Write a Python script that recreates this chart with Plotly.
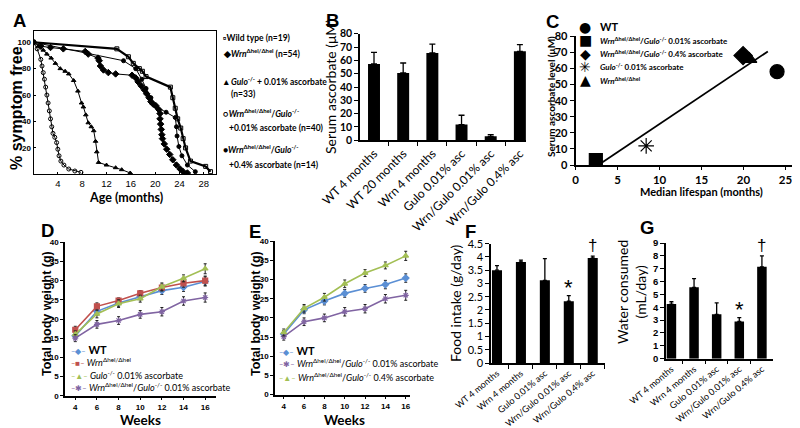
import plotly.graph_objects as go

# ---------------- DATA ----------------
# Panel A: survival curves (age in months, % symptom free)
a_wt_age = [0, 13.7, 15.6, 16.4, 17.4, 17.9, 18.5, 22.5, 22.9, 23.3, 23.7, 24.2, 24.6, 25.0, 25.8, 28.3, 29.1]
a_wt_pct = [100, 95, 89, 84, 80, 78, 74, 66, 58, 50, 42, 35, 27, 20, 10, 6, 2]
a_wrn_age = [0, 1.2, 2.8, 4.9, 8.5, 9.0, 10.6, 10.8, 11.0, 11.5, 12.3, 13.5, 16.2, 16.8, 17.2, 17.7, 18.2,
             18.6, 19.0, 19.3, 19.7, 20.1, 20.6, 20.8, 20.8, 20.9, 21.0, 21.1, 21.2, 21.5, 21.9, 22.4,
             22.9, 23.5, 24.1, 24.6, 25.3]
a_wrn_pct = [100, 97, 96, 95, 93, 91, 88, 86, 82, 79, 77, 76, 75, 73, 70, 67, 64,
             61, 58, 55, 53, 52, 49, 46, 42, 38, 34, 30, 27, 23, 19, 15,
             11, 7, 4, 2, 1]
a_gulo_age = [0, 0.8, 1.6, 2.2, 2.9, 3.6, 4.4, 5.2, 5.8, 6.6, 7.3, 7.9, 8.2, 8.6, 9.0, 9.5, 9.9, 10.2,
              10.4, 10.7, 12.0, 13.5, 14.5, 15.9]
a_gulo_pct = [100, 97, 94, 91, 88, 84, 80, 78, 76, 71, 63, 54, 51, 45, 39, 36, 33, 25,
              17, 9, 7, 5, 3.5, 1]
a_wg01_age = [0, 0.6, 1.2, 1.4, 1.6, 1.8, 2.0, 2.2, 2.4, 2.6, 2.8, 3.0, 3.2, 3.5, 3.8, 4.0, 4.2,
              4.5, 5.0, 5.8, 6.8, 7.8]
a_wg01_pct = [100, 95, 87, 82, 77, 72, 66, 60, 54, 48, 42, 36, 31, 28, 24, 19, 14,
              10, 7, 4, 2.5, 1.5]
a_wg04_age = [0, 14.8, 16.8, 17.8, 18.5, 19.3, 20.2, 21.8, 23.3, 23.5, 23.6, 23.9, 24.4, 25.3, 26.6]
a_wg04_pct = [100, 86, 80, 72, 65, 58, 51, 47, 43, 36, 29, 21, 14, 7, 2]
a_xticks = [4, 8, 12, 16, 20, 24, 28]
a_yticks = [20, 40, 60, 80, 100]

# Panel B: serum ascorbate
b_groups = ["WT 4 months", "WT 20 months", "Wrn 4 months", "Gulo 0.01% asc",
            "Wrn/Gulo 0.01% asc", "Wrn/Gulo 0.4% asc"]
b_values = [57.3, 50.5, 65.5, 11.8, 3.0, 66.8]
b_errors = [8.7, 7.5, 6.7, 7.0, 1.3, 5.0]

# Panel C: median lifespan vs serum ascorbate
c_names = ["WT", "Wrn/Gulo 0.01% ascorbate", "Wrn/Gulo 0.4% ascorbate",
           "Gulo 0.01% ascorbate", "Wrn"]
c_lifespan = [24.0, 2.4, 19.95, 8.4, 20.7]
c_ascorbate = [58.0, 3.1, 68.0, 11.9, 65.8]
c_fit_x = [2.7, 22.9]
c_fit_y = [0, 70.6]

# Panel D / E: body weight
weeks = [4, 6, 8, 10, 12, 14, 16]
d_wt = [15.6, 22.0, 24.2, 25.9, 27.4, 28.3, 29.8]
d_wt_err = [0.8, 1.0, 0.9, 0.9, 1.0, 1.1, 1.2]
d_wrn = [17.2, 23.3, 24.8, 26.7, 28.2, 29.3, 30.0]
d_wrn_err = [0.9, 0.9, 0.7, 0.7, 0.9, 1.0, 1.2]
d_gulo = [16.0, 21.3, 24.0, 25.3, 28.4, 30.6, 33.1]
d_gulo_err = [0.9, 1.0, 1.0, 0.9, 1.0, 0.9, 1.3]
d_wg = [15.0, 18.6, 19.6, 21.2, 21.9, 24.7, 25.6]
d_wg_err = [0.9, 1.0, 1.0, 1.0, 1.1, 1.1, 1.2]

e_wt = [15.8, 22.1, 24.4, 26.4, 27.7, 28.7, 30.4]
e_wt_err = [0.9, 1.0, 1.0, 1.0, 1.0, 1.1, 1.1]
e_wg01 = [15.1, 19.0, 20.0, 21.6, 22.4, 25.0, 25.9]
e_wg01_err = [0.9, 1.0, 1.0, 1.1, 1.1, 1.1, 1.3]
e_wg04 = [16.2, 22.5, 25.4, 28.9, 31.7, 33.7, 36.2]
e_wg04_err = [0.9, 1.0, 1.0, 1.0, 0.9, 0.9, 1.2]

# Panel F / G: food intake and water consumption
fg_groups = ["WT 4 months", "Wrn 4 months", "Gulo 0.01% asc", "Wrn/Gulo 0.01% asc", "Wrn/Gulo 0.4% asc"]
f_values = [3.50, 3.81, 3.12, 2.33, 3.96]
f_errors = [0.17, 0.07, 0.82, 0.21, 0.07]
g_values = [4.25, 5.55, 3.45, 2.9, 7.15]
g_errors = [0.18, 0.68, 0.9, 0.3, 0.85]
fg_marks = ["", "", "", "*", "†"]

# ---------------- STYLE ----------------
W, H = 800, 428
def px(x): return x / W
def py(y): return 1 - y / H

F_MAIN = "Lato, 'Open Sans', sans-serif"
F_ARIAL = "'Liberation Sans', Arial, sans-serif"
F_SYM = "'DejaVu Sans', sans-serif"
C_BLUE, C_RED, C_GREEN, C_PURPLE = "#5b8fd4", "#c0504d", "#a3bf55", "#8064a2"

fig = go.Figure()

# ---- A ----
for xs, ys, sym, size, lw in [
    (a_wt_age, a_wt_pct, "square-open", 4, 2.2),
    (a_wrn_age, a_wrn_pct, "diamond", 5, 1),
    (a_wg04_age, a_wg04_pct, "circle", 4, 1),
    (a_gulo_age, a_gulo_pct, "triangle-up", 4, 1),
    (a_wg01_age, a_wg01_pct, "circle-open", 4, 1),
]:
    fig.add_trace(go.Scatter(x=xs, y=ys, mode="lines+markers", xaxis="x", yaxis="y",
                             line=dict(color="black", width=lw),
                             marker=dict(symbol=sym, size=size, color="black",
                                         line=dict(color="black", width=1)),
                             showlegend=False))

# ---- B ----
fig.add_trace(go.Bar(x=list(range(len(b_groups))), y=b_values, width=0.41, xaxis="x2", yaxis="y2",
                     marker=dict(color="black", line=dict(width=0)),
                     error_y=dict(type="data", array=b_errors, arrayminus=[0] * len(b_errors),
                                  symmetric=False, color="black", thickness=1.3, width=3),
                     showlegend=False))

# ---- C ----
c_syms = ["circle", "square", "diamond", "asterisk-open", "triangle-up"]
c_sizes = [14, 13, 14, 13, 13]
for i in range(len(c_names)):
    fig.add_trace(go.Scatter(x=[c_lifespan[i]], y=[c_ascorbate[i]], mode="markers",
                             xaxis="x3", yaxis="y3", name=c_names[i],
                             marker=dict(symbol=c_syms[i], size=c_sizes[i], color="black",
                                         line=dict(color="black", width=1.2)),
                             showlegend=False))
fig.add_trace(go.Scatter(x=c_fit_x, y=c_fit_y, mode="lines", xaxis="x3", yaxis="y3",
                         line=dict(color="black", width=1.8), showlegend=False))

# ---- D / E ----
def wline(ax, ay, ys, errs, color, sym):
    fig.add_trace(go.Scatter(x=weeks, y=ys, mode="lines+markers", xaxis=ax, yaxis=ay,
                             line=dict(color=color, width=1.6),
                             marker=dict(symbol=sym, size=5, color=color, line=dict(color=color, width=1.2)),
                             error_y=dict(type="data", array=errs, color="#222222", thickness=1, width=1.5),
                             showlegend=False))

wline("x4", "y4", d_wt, d_wt_err, C_BLUE, "diamond")
wline("x4", "y4", d_wrn, d_wrn_err, C_RED, "square")
wline("x4", "y4", d_gulo, d_gulo_err, C_GREEN, "triangle-up")
wline("x4", "y4", d_wg, d_wg_err, C_PURPLE, "asterisk-open")
wline("x5", "y5", e_wt, e_wt_err, C_BLUE, "diamond")
wline("x5", "y5", e_wg01, e_wg01_err, C_PURPLE, "asterisk-open")
wline("x5", "y5", e_wg04, e_wg04_err, C_GREEN, "triangle-up")

# ---- F / G ----
for ax, ay, vals, errs in [("x6", "y6", f_values, f_errors), ("x7", "y7", g_values, g_errors)]:
    fig.add_trace(go.Bar(x=list(range(len(fg_groups))), y=vals, width=0.42, xaxis=ax, yaxis=ay,
                         marker=dict(color="black", line=dict(width=0)),
                         error_y=dict(type="data", array=errs, arrayminus=[0] * len(errs),
                                      symmetric=False, color="black", thickness=1.3, width=2),
                         showlegend=False))

# ---------------- AXES ----------------
def axis(domain, rng, anchor, **kw):
    d = dict(domain=domain, range=rng, anchor=anchor, showline=True, linecolor="black",
             linewidth=1, ticks="outside", ticklen=3, tickcolor="black", showgrid=False,
             zeroline=False, fixedrange=True, automargin=False)
    d.update(kw)
    return d

tf = lambda size, fam=F_ARIAL, weight="normal": dict(size=size, family=fam, color="black", weight=weight)

layout = dict(
    template="none",
    width=W, height=H, margin=dict(l=0, r=0, t=0, b=0, pad=0), autosize=False,
    paper_bgcolor="white", plot_bgcolor="white", showlegend=False,
    # A
    xaxis=axis([px(25.5), px(208)], [0, 30], "y", tickvals=a_xticks, mirror=True,
               tickfont=tf(9.5, F_ARIAL), ticks="inside", ticklen=2),
    yaxis=axis([py(166.3), py(23)], [0, 108.5], "x", tickvals=a_yticks, mirror=True,
               tickfont=tf(8, F_ARIAL, "bold"), ticks="inside", ticklen=2),
    # B
    xaxis2=axis([px(352), px(518.3)], [-0.48, 5.22], "y2", tickvals=list(range(len(b_groups))),
                ticktext=b_groups, tickangle=-45, ticks="", linewidth=1.5,
                tickfont=tf(12, F_MAIN),
                minor=dict(tick0=0.5, dtick=1, ticks="outside", ticklen=4, tickcolor="black")),
    yaxis2=axis([py(132.3), py(25.7)], [0, 80], "x2", dtick=10, linewidth=1.5, ticklen=4,
                tickfont=tf(10.5, F_MAIN, "bold")),
    # C
    xaxis3=axis([px(567.7), px(798)], [0, 27.45], "y3", dtick=5, linewidth=2, ticklen=3,
                tickfont=tf(11.5, F_MAIN, "bold")),
    yaxis3=axis([py(157), py(28.3)], [0, 80], "x3", dtick=10, linewidth=2, ticklen=4,
                tickfont=tf(11, F_MAIN, "bold")),
    # D
    xaxis4=axis([px(57), px(208)], [3.05, 17], "y4", tickvals=weeks, linewidth=1.5,
                tickfont=tf(8, F_ARIAL, "bold")),
    yaxis4=axis([py(387.7), py(234.3)], [0, 40], "x4", dtick=5, linewidth=1.5,
                tickfont=tf(8, F_ARIAL, "bold")),
    # E
    xaxis5=axis([px(267), px(402.3)], [3.14, 16.45], "y5", tickvals=weeks, linewidth=1.5,
                tickfont=tf(8, F_ARIAL, "bold")),
    yaxis5=axis([py(386.5), py(233.3)], [0, 40], "x5", dtick=5, linewidth=1.5,
                tickfont=tf(8, F_ARIAL, "bold")),
    # F
    xaxis6=axis([px(483), px(596.7)], [-0.25, 4.5], "y6", tickvals=list(range(len(fg_groups))),
                ticktext=fg_groups, tickangle=-40, ticks="", linewidth=1.5,
                tickfont=tf(9, F_MAIN),
                minor=dict(tick0=0.5, dtick=1, ticks="outside", ticklen=4, tickcolor="black")),
    yaxis6=axis([py(355), py(235.7)], [0, 4.5], "x6", dtick=0.5, linewidth=1.5, ticklen=4,
                tickfont=tf(11, F_MAIN)),
    # G
    xaxis7=axis([px(658), px(765)], [-0.24, 4.49], "y7", tickvals=list(range(len(fg_groups))),
                ticktext=fg_groups, tickangle=-40, ticks="", linewidth=1.5,
                tickfont=tf(9, F_MAIN),
                minor=dict(tick0=0.5, dtick=1, ticks="outside", ticklen=4, tickcolor="black")),
    yaxis7=axis([py(350.7), py(235)], [0, 9], "x7", dtick=1, linewidth=1.5, ticklen=4,
                tickfont=tf(9.5, F_ARIAL, "bold")),
)
fig.update_layout(**layout)

# ---------------- ANNOTATIONS ----------------
ann = []
def note(x, y, text, size=12, fam=F_ARIAL, weight="normal", xanchor="center", yanchor="middle",
         angle=0, color="black", align="left"):
    ann.append(dict(x=px(x), y=py(y), xref="paper", yref="paper", text=text, showarrow=False,
                    xanchor=xanchor, yanchor=yanchor, textangle=angle, align=align,
                    font=dict(size=size, family=fam, color=color, weight=weight)))

# panel letters
for letter, x, y in [("A", 3, 12), ("B", 316, 12), ("C", 536, 13), ("D", 31, 222),
                     ("E", 239, 223), ("F", 455, 223), ("G", 630, 220)]:
    note(x, y, letter, size=18.5, weight="bold", xanchor="left")

# axis titles
note(8, 100, "% symptom free", size=16, fam=F_ARIAL, weight="bold", angle=-90)
note(118, 189, "Age (months)", size=12.5, fam=F_MAIN, weight="bold")
note(322, 79, "Serum ascorbate (μM)", size=14, fam=F_MAIN, angle=-90)
note(543, 89, "Serum ascorbate level (μM)", size=10, fam=F_MAIN, weight="bold", angle=-90)
note(693, 183, "Median lifespan (months)", size=11, fam=F_MAIN, weight="bold")
note(39, 306, "Total body weight (g)", size=12.5, weight="bold", angle=-90)
note(132, 412, "Weeks", size=13.5, fam=F_MAIN, weight="bold")
note(248, 306, "Total body weight (g)", size=12.5, weight="bold", angle=-90)
note(336, 412, "Weeks", size=13.5, fam=F_MAIN, weight="bold")
note(447, 295, "Food intake (g/day)", size=14, fam=F_MAIN, angle=-90)
note(623, 284, "Water consumed<br>(mL/day)", size=14, fam=F_MAIN, angle=-90, align="center")

# Panel A legend
WRN = "<i>Wrn</i><sup>Δhel/Δhel</sup>"
GULO = "<i>Gulo</i><sup>-/-</sup>"
for x, y, txt in [(213, 30, "▫Wild type (n=19)"),
                  (213, 45, "◆" + WRN + " (n=54)"),
                  (213, 73, "▴ " + GULO + " + 0.01% ascorbate"),
                  (221, 86, "(n=33)"),
                  (213, 105, "○" + WRN + "/" + GULO),
                  (219, 120, "+0.01% ascorbate (n=40)"),
                  (213, 141, "●" + WRN + "/" + GULO),
                  (219, 157, "+0.4% ascorbate (n=14)")]:
    note(x, y, txt, size=8.5, fam=F_MAIN, weight="bold", xanchor="left")

# Panel C legend
c_leg_sym = ["●", "■", "◆", "✳", "▲"]
c_leg_txt = ["<b>WT</b>", WRN + "/" + GULO + " 0.01% ascorbate", WRN + "/" + GULO + " 0.4% ascorbate",
             GULO + " 0.01% ascorbate", WRN]
c_leg_size = [11, 8, 8, 8, 8]
for y, s, t, sz in zip([19, 32, 45.5, 59, 72.5], c_leg_sym, c_leg_txt, c_leg_size):
    note(577, y, s, size=14, fam=F_SYM)
    note(590, y, t, size=sz, fam=F_MAIN, weight="bold", xanchor="left")

# Panels D/E legends
def leg(x, y, color, sym, text, size=9):
    note(x, y, f"<span style='color:{color};font-size:8px'>‒{sym}‒</span> " + text, size=size,
         fam=F_MAIN, xanchor="left")

leg(61, 341, C_BLUE, "◆", "<b>WT</b>", 11)
leg(61, 354, C_RED, "■", WRN)
leg(61, 367, C_GREEN, "▲", GULO + " 0.01% ascorbate")
leg(61, 379, C_PURPLE, "✱", WRN + "/" + GULO + " 0.01% ascorbate")
leg(269, 342, C_BLUE, "◆", "<b>WT</b>", 11)
leg(269, 355, C_PURPLE, "✱", WRN + "/" + GULO + " 0.01% ascorbate")
leg(269, 369, C_GREEN, "▲", WRN + "/" + GULO + " 0.4% ascorbate")

# significance marks F/G
for ax, ay, vals, errs in [("x6", "y6", f_values, f_errors), ("x7", "y7", g_values, g_errors)]:
    for i, m in enumerate(fg_marks):
        if m:
            ann.append(dict(x=i, y=vals[i] + errs[i], xref=ax, yref=ay, text=m, showarrow=False,
                            xanchor="center", yanchor="bottom",
                            yshift=-6 if m == "*" else -1,
                            font=dict(size=22 if m == "*" else 17, family=F_ARIAL, color="black")))

fig.update_layout(annotations=ann)
fig.write_html("out.html")
